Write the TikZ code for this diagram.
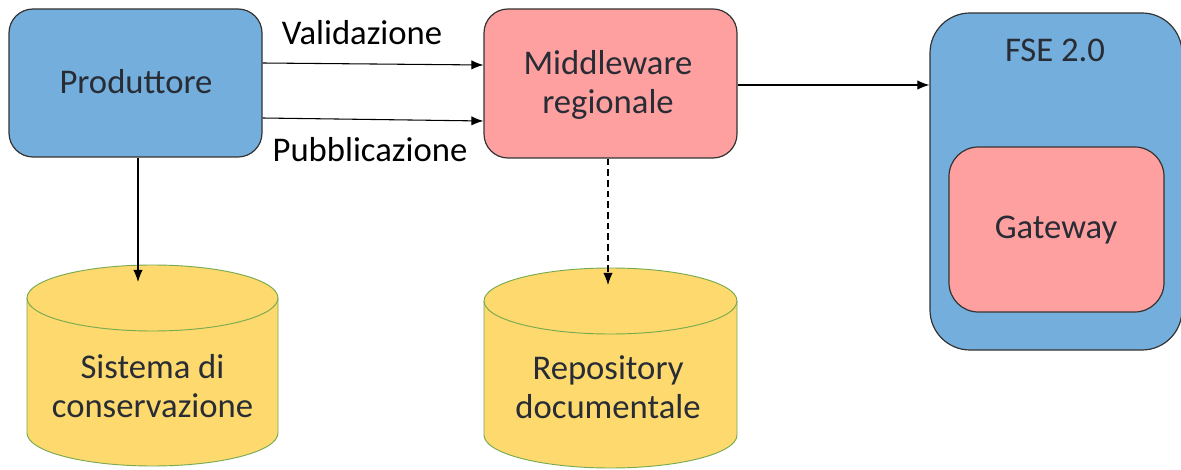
\documentclass[tikz,border=0pt]{standalone}
\usepackage{fontspec}
\setmainfont{Carlito}
\usetikzlibrary{arrows.meta}
\definecolor{boxblue}{RGB}{116,174,220}
\definecolor{boxpink}{RGB}{255,160,160}
\definecolor{cylyellow}{RGB}{253,217,110}
\definecolor{cylgreen}{RGB}{120,170,80}
\definecolor{txt}{RGB}{40,44,52}
\tikzset{
  rbox/.style={draw=black!80, line width=0.9pt, rounded corners=18pt, text=txt, align=center, inner sep=0pt},
  cyl/.style={fill=cylyellow, draw=cylgreen, line width=0.7pt},
  lbl/.style={font=\fontsize{26}{30}\selectfont, text=black, inner sep=0pt},
  boxtxt/.style={font=\fontsize{26}{29}\selectfont, text=txt, align=center, inner sep=0pt},
  arr/.style={-{Latex[length=9pt,width=7pt]}, line width=0.8pt, black},
}
\begin{document}
\begin{tikzpicture}[x=0.75pt,y=-0.75pt]
\useasboundingbox (0,0) rectangle (1181,470);
% boxes
\node[rbox, fill=boxblue, minimum width=253*0.75pt, minimum height=148*0.75pt] (prod) at (135.5,83) {};
\node[boxtxt] (prodt) at (136,82) {Produttore};
\node[rbox, fill=boxpink, minimum width=253*0.75pt, minimum height=149*0.75pt] (mid) at (610.5,83.5) {};
\node[boxtxt] (midt) at (608,85) {Middleware\\regionale};
\node[rbox, fill=boxblue, minimum width=252*0.75pt, minimum height=337*0.75pt, rounded corners=30pt] (fse) at (1056,181.5) {};
\node[boxtxt] (fset) at (1055,50) {FSE 2.0};
\node[rbox, fill=boxpink, minimum width=215*0.75pt, minimum height=165*0.75pt, rounded corners=22pt] (gw) at (1056.5,229.5) {};
\node[boxtxt] (gwt) at (1056,230) {Gateway};
% cylinder 1
\path[cyl] (27,298) -- (27,433) arc[start angle=180, end angle=0, x radius=125.5, y radius=33] -- (278,298) arc[start angle=0, end angle=-180, x radius=125.5, y radius=33] -- cycle;
\draw[cylgreen, line width=0.7pt] (27,298) arc[start angle=180, end angle=0, x radius=125.5, y radius=33];
\coordinate (c1top) at (138,282);
\node[boxtxt] (cons) at (152.5,386) {Sistema di\\conservazione};
% cylinder 2
\path[cyl] (484,301) -- (484,435) arc[start angle=180, end angle=0, x radius=126.5, y radius=33] -- (737,301) arc[start angle=0, end angle=-180, x radius=126.5, y radius=33] -- cycle;
\draw[cylgreen, line width=0.7pt] (484,301) arc[start angle=180, end angle=0, x radius=126.5, y radius=33];
\coordinate (c2top) at (608,285);
\node[boxtxt] (repo) at (608,387) {Repository\\documentale};
% arrows
\draw[arr] (prod.east |- 0,63) -- (mid.west |- 0,65);
\draw[arr] (prod.east |- 0,118) -- (mid.west |- 0,121);
\node[lbl] (val) at (362,33) {Validazione};
\node[lbl] (pub) at (370,150) {Pubblicazione};
\draw[arr] (mid.east |- 0,85) -- (fse.west |- 0,85);
\draw[arr] (prod.south -| c1top) -- (c1top);
\draw[arr, dashed, dash pattern=on 5pt off 3pt] (mid.south -| c2top) -- (c2top);
\end{tikzpicture}
\end{document}
